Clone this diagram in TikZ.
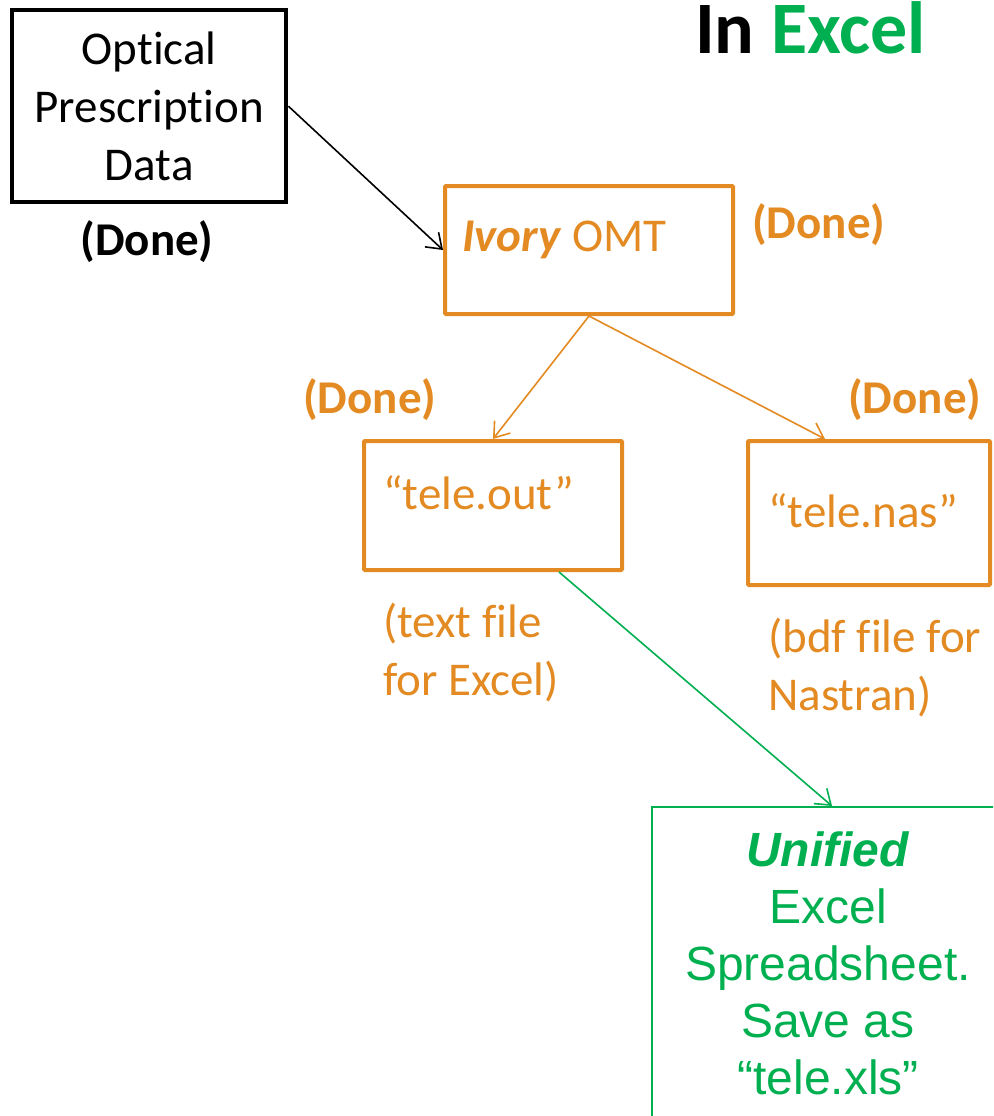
\documentclass[tikz,border=0pt]{standalone}
\usepackage{fontspec}
\setmainfont{Carlito}[RawFeature=-liga]
\newfontfamily\arialf{Liberation Sans}
\usetikzlibrary{arrows.meta}
\definecolor{orng}{HTML}{E38A22}
\definecolor{grn}{HTML}{00B050}
\tikzset{
  boxk/.style={draw=black, line width=4.4pt, rectangle, anchor=north west, inner sep=0pt},
  boxo/.style={draw=orng, line width=4pt, rectangle, anchor=north west, inner sep=0pt, rounded corners=1pt},
  boxg/.style={draw=grn, line width=2pt, rectangle, anchor=north west, inner sep=0pt},
  txt/.style={inner sep=0pt, font=\fontsize{47}{58}\selectfont},
  conn/.style={line width=1.6pt, -{Straight Barb[length=14pt,width=20pt,line width=1.6pt]}},
}
\begin{document}
\begin{tikzpicture}[x=1pt,y=-1pt]
\clip (0,0) rectangle (993,1116);
\fill[white] (0,0) rectangle (993,1116);
% title
\node[inner sep=0pt, anchor=west, font=\fontsize{74}{80}\selectfont\bfseries] (title) at (695,28) {In \textcolor{grn}{Excel}};
% boxes
\node[boxk, minimum width=274pt, minimum height=192pt, align=center, font=\fontsize{47}{58}\selectfont] (opt) at (10,8) {Optical\\Prescription\\Data};
\node[boxo, minimum width=288pt, minimum height=128pt] (ivory) at (443,184) {};
\node[boxo, minimum width=258pt, minimum height=129pt] (teleout) at (362,439) {};
\node[boxo, minimum width=242pt, minimum height=144pt] (telenas) at (746,439) {};
\node[boxg, minimum width=360pt, minimum height=330pt] (unified) at (651,806) {};
% box texts
\node[txt, anchor=west, text=orng] (ivorytxt) at (462,240) {\textbf{\textit{Ivory}} OMT};
\node[txt, anchor=west, text=orng] (teleouttxt) at (383,493) {“tele.out”};
\node[txt, anchor=west, text=orng] (telenastxt) at (768,511) {“tele.nas”};
\node[inner sep=0pt, align=center, text=grn, font=\arialf\fontsize{48}{57}\selectfont] (unifiedtxt) at (828,963) {\textbf{\textit{Unified}}\\Excel\\Spreadsheet.\\Save as\\“tele.xls”};
% labels
\node[txt, font=\fontsize{47}{58}\selectfont\bfseries] (done1) at (147,242) {(Done)};
\node[txt, anchor=west, text=orng, font=\fontsize{47}{58}\selectfont\bfseries] (done2) at (752,225) {(Done)};
\node[txt, anchor=west, text=orng, font=\fontsize{47}{58}\selectfont\bfseries] (done3) at (303,400) {(Done)};
\node[txt, anchor=west, text=orng, font=\fontsize{47}{58}\selectfont\bfseries] (done4) at (848,400) {(Done)};
\node[txt, anchor=west, text=orng, align=left] (note1) at (383,653) {(text file\\for Excel)};
\node[txt, anchor=west, text=orng, align=left] (note2) at (768,668) {(bdf file for\\Nastran)};
% connectors
\draw[conn, black] (opt.east) -- (ivory.west);
\draw[conn, orng] (ivory.south) -- (teleout.north);
\draw[conn, orng] (ivory.south) -- ([xshift=79pt]telenas.north west);
\draw[conn, grn] ([xshift=-65pt]teleout.south east) -- (unified.north);
\end{tikzpicture}
\end{document}
